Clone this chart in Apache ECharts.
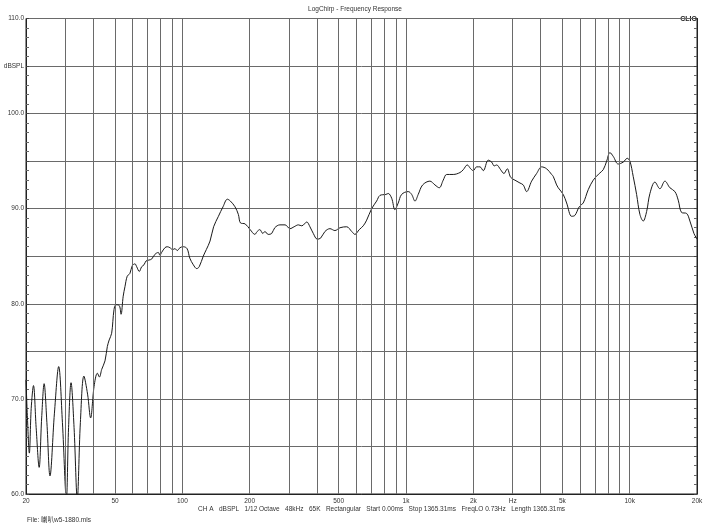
<!DOCTYPE html>
<html>
<head>
<meta charset="utf-8">
<script src="https://cdn.jsdelivr.net/npm/echarts@6/dist/echarts.min.js"></script>
<style>
  html, body { margin: 0; padding: 0; background: #fff; }
  #chart { width: 710px; height: 532px; }
</style>
</head>
<body>
<div id="chart"></div>
<script>
// frequency (Hz)
var freq = [20.0, 20.3, 20.7, 21.1, 21.6, 22.2, 22.9, 23.5, 24.1, 24.8, 25.6, 26.8, 28.0, 29.1, 30.3, 31.0, 31.8, 32.8, 33.9, 35.0,
  36.3, 37.7, 38.9, 40.3, 41.7, 42.6, 43.6, 45.1, 46.2, 47.1, 48.3, 49.5, 50.5, 52.3, 53.2, 54.4, 55.4, 56.7, 58.3, 59.7,
  61.4, 62.5, 64.2, 65.8, 67.4, 68.8, 70.9, 72.9, 75.4, 78.1, 79.4, 80.8, 83.6, 85.6, 88.0, 90.5, 92.7, 94.9, 97.6, 101,
  105, 108, 112, 116, 119, 124, 128, 133, 138, 145, 152, 159, 164, 172, 178, 182, 191, 201, 211, 216,
  222, 229, 234, 242, 251, 259, 273, 288, 303, 316, 330, 342, 360, 372, 385, 401, 415, 434, 457, 481,
  507, 543, 572, 591, 618, 644, 667, 702, 739, 765, 813, 833, 863, 892, 923, 956, 1023, 1060, 1097, 1134,
  1187, 1279, 1347, 1408, 1467, 1520, 1626, 1743, 1803, 1879, 1946, 1998, 2069, 2141, 2215, 2332, 2415, 2480, 2542, 2649,
  2741, 2836, 2937, 3069, 3232, 3343, 3462, 3645, 3837, 4040, 4253, 4478, 4552, 4714, 4793, 5046, 5226, 5502, 5692, 5950,
  6199, 6528, 6872, 7310, 7618, 7890, 8162, 8444, 8890, 9358, 9752, 10023, 10370, 10740, 11112, 11496, 11906, 12320, 12968, 13654,
  14374, 15134, 15932, 16484, 17072, 17972, 18594, 19378, 19776, 20000];
// level in dBSPL
var spl = [72.0, 68.0, 64.3, 69.0, 71.4, 67.0, 62.8, 68.0, 71.6, 67.5, 61.9, 68.5, 73.4, 67.5, 59.5, 67.0, 71.7, 67.0, 59.5, 67.5,
  72.4, 70.5, 68.0, 71.3, 72.7, 72.3, 73.1, 74.0, 75.5, 76.2, 76.9, 79.4, 79.9, 79.8, 78.9, 80.8, 81.8, 82.9, 83.2, 84.0,
  84.2, 83.9, 83.4, 83.9, 84.1, 84.5, 84.6, 84.7, 85.2, 85.4, 85.1, 85.4, 85.9, 86.0, 85.9, 85.7, 85.8, 85.6, 85.9, 86.0,
  85.8, 84.8, 84.1, 83.7, 83.9, 85.0, 85.7, 86.6, 88.1, 89.2, 90.2, 91.0, 90.8, 90.2, 89.4, 88.5, 88.4, 87.8, 87.3, 87.6,
  87.8, 87.4, 87.6, 87.3, 87.4, 88.0, 88.3, 88.3, 87.9, 88.1, 88.3, 88.2, 88.6, 88.1, 87.4, 86.8, 86.9, 87.6, 87.9, 87.7,
  88.0, 88.1, 87.6, 87.3, 87.8, 88.2, 88.8, 90.0, 90.8, 91.4, 91.5, 91.6, 91.1, 89.9, 90.6, 91.5, 91.8, 91.5, 90.8, 91.5,
  92.5, 92.9, 92.5, 92.2, 93.0, 93.6, 93.6, 93.8, 94.1, 94.6, 94.2, 94.0, 94.4, 94.4, 94.0, 95.1, 94.9, 94.5, 94.6, 94.1,
  93.7, 94.2, 93.3, 93.0, 92.7, 92.5, 91.8, 92.9, 93.7, 94.4, 94.2, 93.6, 93.4, 92.5, 92.2, 91.5, 90.6, 89.2, 89.3, 90.2,
  90.6, 92.0, 93.0, 93.7, 94.1, 95.0, 95.9, 95.5, 94.7, 94.9, 95.3, 95.0, 93.4, 91.5, 89.4, 88.7, 89.7, 91.6, 92.8, 92.1,
  92.9, 92.2, 91.8, 90.9, 89.6, 89.5, 88.7, 87.4, 87.0, 86.8];

// vertical grid lines (1-2-..-9 per decade) and the labelled ones
var gridFreqs = [30, 40, 50, 60, 70, 80, 90, 100, 200, 300, 400, 500, 600, 700, 800, 900,
  1000, 2000, 3000, 4000, 5000, 6000, 7000, 8000, 9000, 10000];
var tickFreqs = [20, 50, 100, 200, 500, 1000, 2000, 3000, 5000, 10000, 20000];
var tickLabels = ['20', '50', '100', '200', '500', '1k', '2k', 'Hz', '5k', '10k', '20k'];

var chart = echarts.init(document.getElementById('chart'));
var FONT = 'Liberation Sans';

var points = freq.map(function (f, i) { return [f, spl[i]]; });

var lines = gridFreqs.map(function (f) { return { xAxis: f, label: { show: false } }; });
tickFreqs.forEach(function (f, i) {
  lines.push({
    xAxis: f,
    lineStyle: { color: (f === 20 || f === 20000) ? 'rgba(0,0,0,0)' : '#6a6a6a' },
    label: { show: true, position: 'start', formatter: tickLabels[i], distance: 4, color: '#333' }
  });
});

var yLabel = function (v) {
  if (v === 105) return 'dBSPL';
  if (v % 10 === 0) return v.toFixed(1);
  return '';
};

chart.setOption({
  animation: false,
  backgroundColor: '#fff',
  textStyle: { fontFamily: FONT },
  title: {
    text: 'LogChirp - Frequency Response',
    left: 'center', top: 1,
    textStyle: { fontSize: 6.5, fontWeight: 'normal', color: '#333', fontFamily: FONT }
  },
  grid: {
    left: 26, right: 13, top: 18.5, bottom: 38,
    show: true, borderColor: '#222', borderWidth: 1
  },
  xAxis: {
    type: 'log', logBase: 10, min: 20, max: 20000,
    axisLine: { show: true, lineStyle: { color: '#222' } },
    axisTick: { show: false },
    axisLabel: { show: false },
    splitLine: { show: false }
  },
  yAxis: [
    {
      type: 'value', min: 60, max: 110, interval: 5, position: 'left',
      axisLine: { show: true, lineStyle: { color: '#222' } },
      axisTick: { show: true, inside: true, length: 3, lineStyle: { color: '#444' } },
      minorTick: { show: true, splitNumber: 5, length: 3, lineStyle: { color: '#666' } },
      axisLabel: { formatter: yLabel, fontSize: 6.5, color: '#333', margin: 2, fontFamily: FONT },
      splitLine: { show: true, lineStyle: { color: '#6a6a6a', width: 1 } }
    },
    {
      type: 'value', min: 60, max: 110, interval: 5, position: 'right',
      axisLine: { show: true, lineStyle: { color: '#222' } },
      axisTick: { show: true, inside: true, length: 3, lineStyle: { color: '#444' } },
      minorTick: { show: true, splitNumber: 5, length: 3, lineStyle: { color: '#666' } },
      axisLabel: { show: false },
      splitLine: { show: false }
    }
  ],
  series: [{
    type: 'line',
    data: points,
    yAxisIndex: 0,
    showSymbol: false,
    smooth: 0.35,
    clip: true,
    lineStyle: { color: '#1a1a1a', width: 1 },
    markLine: {
      silent: true,
      symbol: 'none',
      animation: false,
      lineStyle: { type: 'solid', color: '#6a6a6a', width: 1 },
      label: { fontSize: 6.5, color: '#333', fontFamily: FONT },
      emphasis: { disabled: true },
      data: lines
    }
  }],
  graphic: [
    {
      type: 'text', right: 13, top: 16,
      style: { text: 'CLIO', font: 'bold 7px ' + FONT, fill: '#222' }
    },
    {
      type: 'text', left: 198, top: 506,
      style: {
        text: 'CH A   dBSPL   1/12 Octave   48kHz   65K   Rectangular   Start 0.00ms   Stop 1365.31ms   FreqLO 0.73Hz   Length 1365.31ms',
        font: '6.5px ' + FONT, fill: '#333'
      }
    },
    {
      type: 'text', left: 27, top: 517,
      style: { text: 'File: 喇叭w5-1880.mls', font: '6.5px ' + FONT + ', "Noto Sans CJK SC"', fill: '#333' }
    }
  ]
});
</script>
</body>
</html>
